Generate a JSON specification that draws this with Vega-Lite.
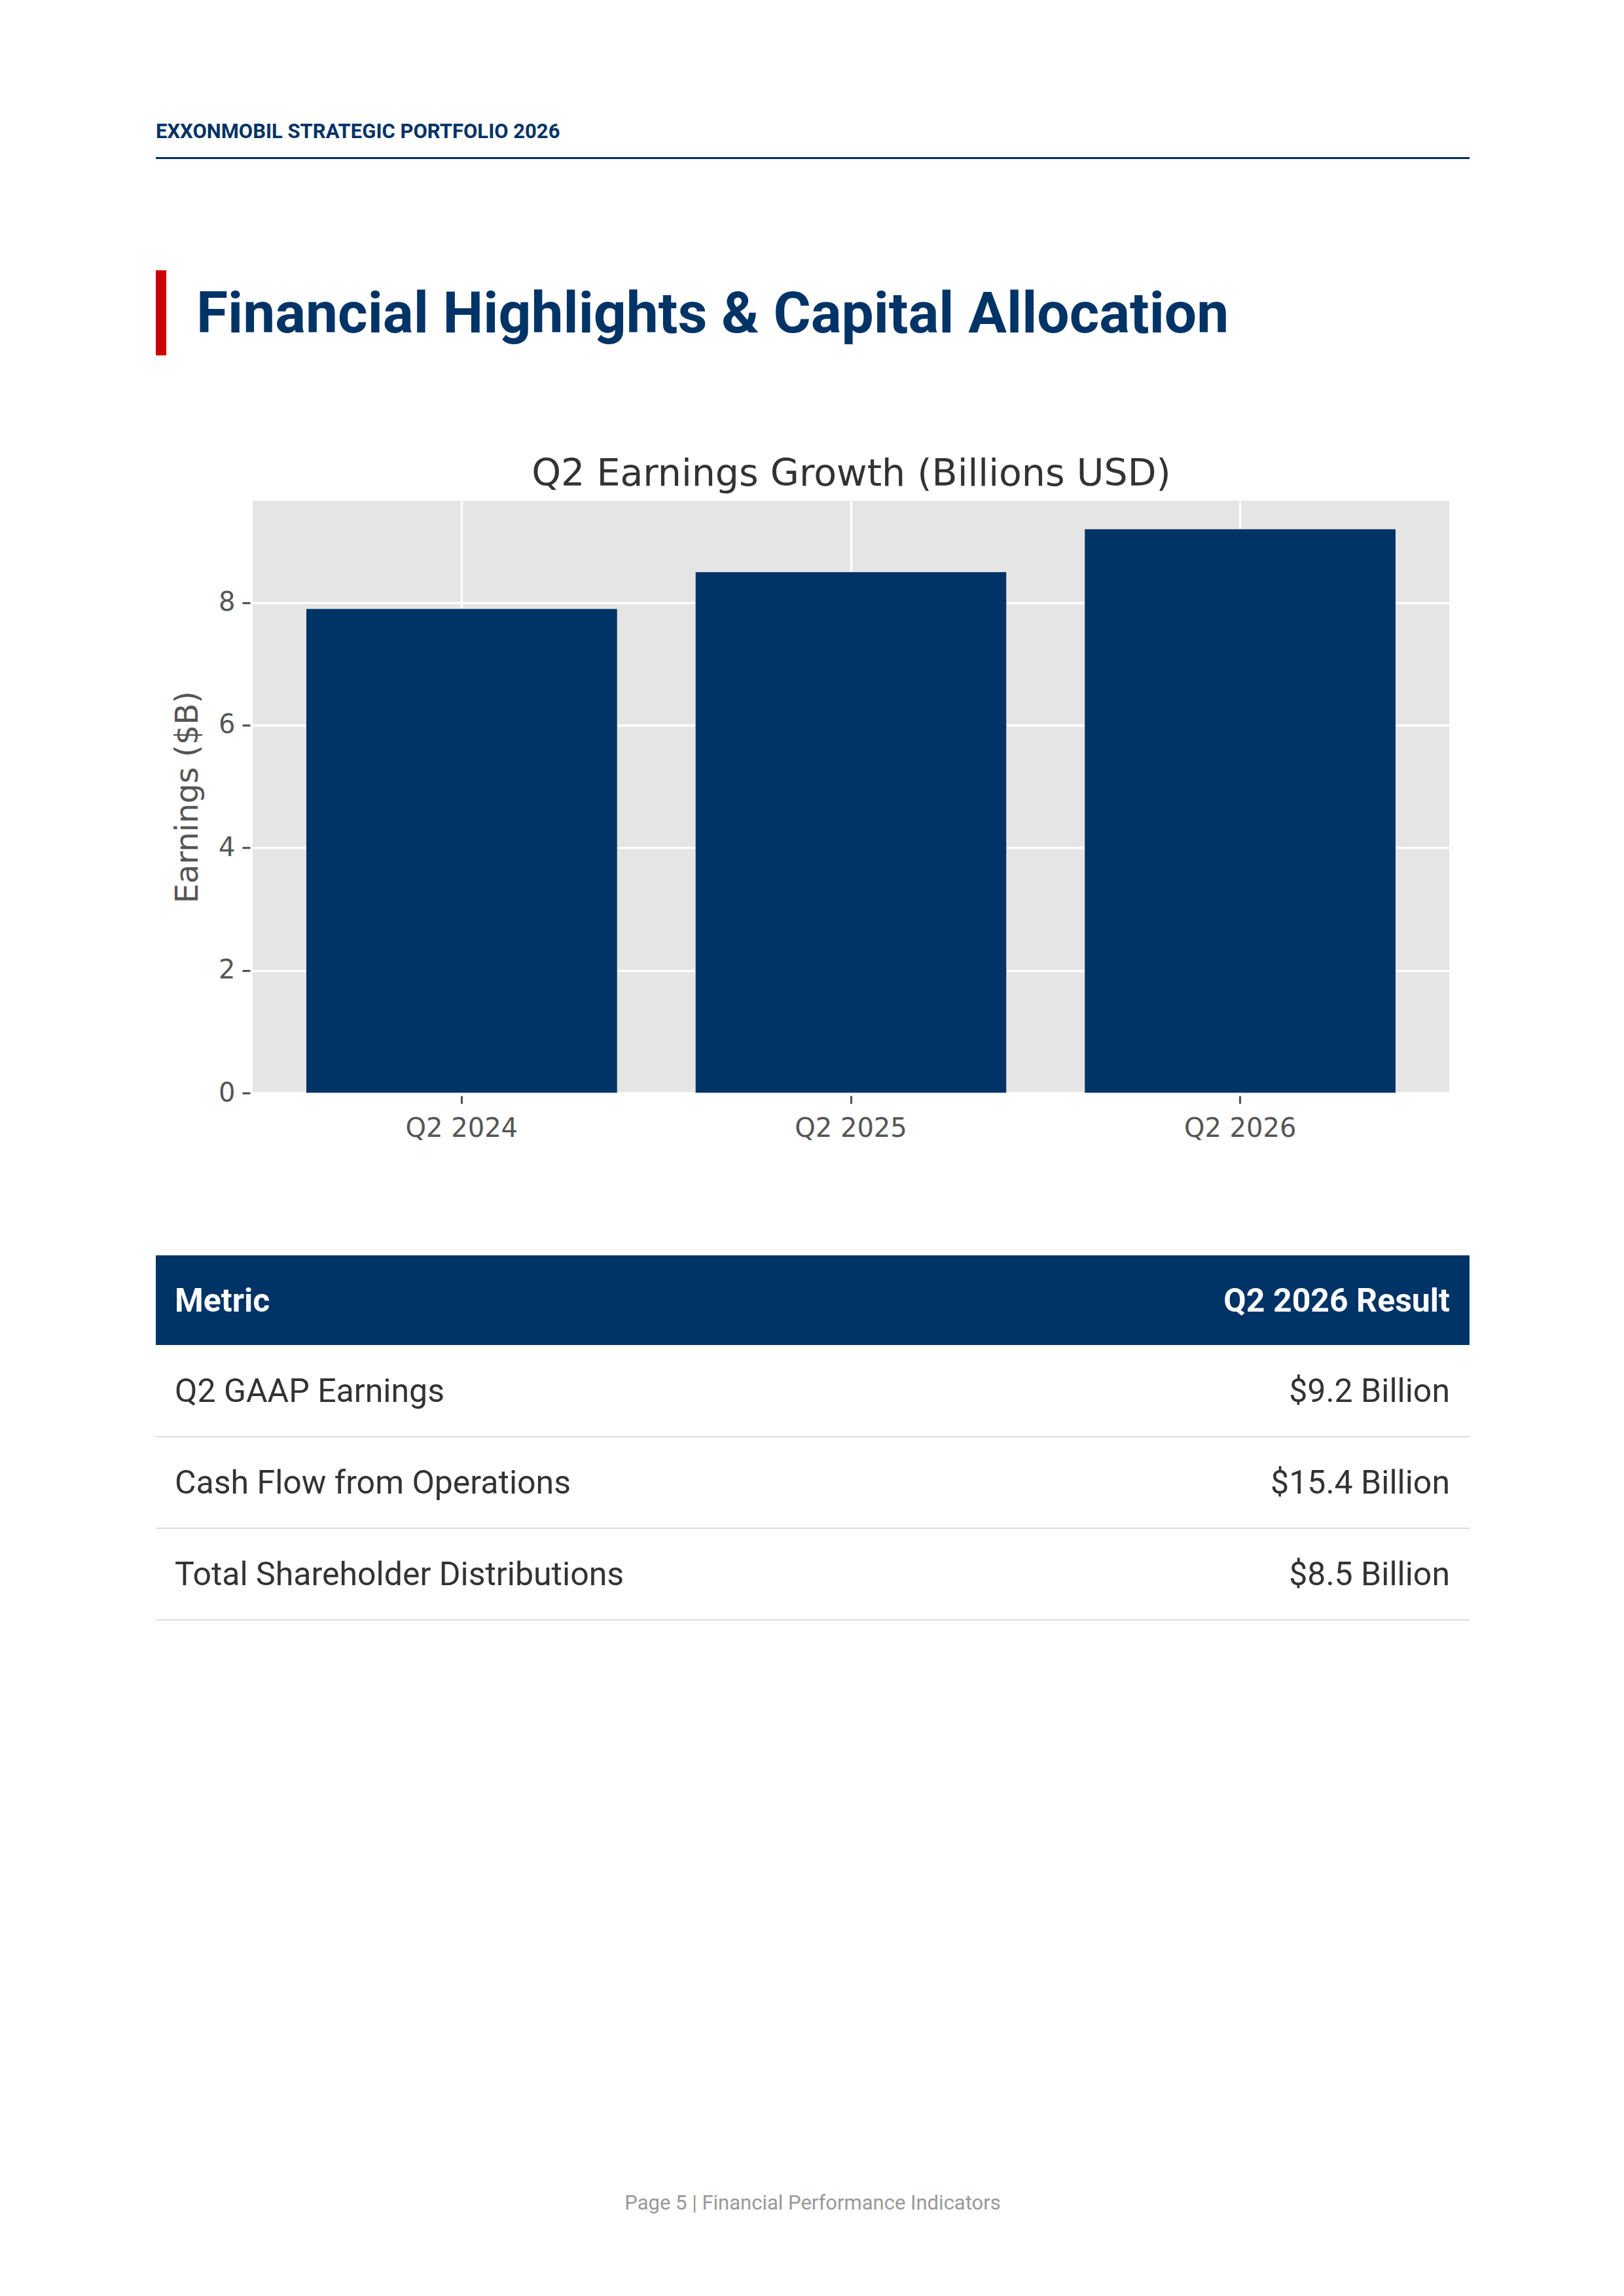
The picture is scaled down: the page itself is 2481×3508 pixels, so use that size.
{
  "$schema": "https://vega.github.io/schema/vega-lite/v6.json",
  "background": "#FFFFFF",
  "padding": {"left": 237, "top": 160, "right": 0, "bottom": 0},
  "config": {"view": {"stroke": null}, "font": "Roboto"},
  "spacing": 0,
  "vconcat": [
    {
      "width": 2007, "height": 80,
      "data": {"values": [{"label": "EXXONMOBIL STRATEGIC PORTFOLIO 2026"}]},
      "mark": {"type": "text", "align": "left", "baseline": "alphabetic", "dy": 11,
               "font": "Roboto", "fontSize": 31, "fontWeight": "bold", "color": "#003366"},
      "encoding": {
        "x": {"datum": "left", "type": "nominal",
              "scale": {"type": "point", "domain": ["left", "right"], "padding": 0}, "axis": null},
        "text": {"field": "label"}
      }
    },
    {
      "width": 2007, "height": 3,
      "view": {"fill": "#003366"},
      "data": {"values": []},
      "mark": {"type": "text"},
      "encoding": {"text": {"value": ""}}
    },
    {
      "width": 2007, "height": 170,
      "data": {"values": []},
      "mark": {"type": "text"},
      "encoding": {"text": {"value": ""}}
    },
    {
      "spacing": 46,
      "bounds": "flush",
      "hconcat": [
        {
          "width": 16, "height": 130,
          "view": {"fill": "#CC0000"},
          "data": {"values": []},
          "mark": {"type": "text"},
          "encoding": {"text": {"value": ""}}
        },
        {
          "width": 1945, "height": 190,
          "data": {"values": [{"label": "Financial Highlights & Capital Allocation"}]},
          "mark": {"type": "text", "align": "left", "baseline": "alphabetic",
                   "font": "Roboto", "fontSize": 87.5, "fontWeight": "bold", "color": "#003366"},
          "encoding": {
            "x": {"datum": "left", "type": "nominal",
                  "scale": {"type": "point", "domain": ["left", "right"], "padding": 0}, "axis": null},
            "text": {"field": "label"}
          }
        }
      ]
    },
    {
      "width": 2007, "height": 162,
      "data": {"values": [{"label": "Q2 Earnings Growth (Billions USD)"}]},
      "mark": {"type": "text", "baseline": "alphabetic", "dx": 59, "dy": 58,
               "font": "DejaVu Sans", "fontSize": 57, "color": "#333333"},
      "encoding": {"text": {"field": "label"}}
    },
    {
      "spacing": 0,
      "bounds": "flush",
      "hconcat": [
        {
          "width": 148, "height": 1153,
          "data": {"values": []},
          "mark": {"type": "text"},
          "encoding": {"text": {"value": ""}}
        },
        {
          "width": 1828, "height": 905,
          "view": {"fill": "#E5E5E5"},
          "data": {
            "values": [
              {"quarter": "Q2 2024", "earnings": 7.9},
              {"quarter": "Q2 2025", "earnings": 8.5},
              {"quarter": "Q2 2026", "earnings": 9.2}
            ]
          },
          "mark": {"type": "bar", "color": "#003366", "stroke": "#EEEEEE", "strokeWidth": 1},
          "encoding": {
            "x": {
              "field": "quarter", "type": "nominal", "sort": null,
              "scale": {"paddingInner": 0.2, "paddingOuter": 0.137},
              "axis": {
                "title": null, "labelAngle": 0, "bandPosition": 0.5,
                "grid": true, "gridColor": "#FFFFFF", "gridWidth": 3.5,
                "domain": false, "tickColor": "#555555", "tickSize": 12, "tickWidth": 3.2, "offset": 4,
                "labelFont": "DejaVu Sans", "labelFontSize": 40, "labelColor": "#555555", "labelPadding": 18
              }
            },
            "y": {
              "field": "earnings", "type": "quantitative",
              "scale": {"domain": [0, 9.66], "nice": false},
              "axis": {
                "title": "Earnings ($B)", "values": [0, 2, 4, 6, 8],
                "grid": true, "gridColor": "#FFFFFF", "gridWidth": 3.5,
                "domain": false, "tickColor": "#555555", "tickSize": 12, "tickWidth": 3.2, "offset": 4,
                "labelFont": "DejaVu Sans", "labelFontSize": 40, "labelColor": "#555555", "labelPadding": 11,
                "titleFont": "DejaVu Sans", "titleFontSize": 48, "titleFontWeight": "normal",
                "titleColor": "#555555", "titlePadding": 22
              }
            }
          }
        }
      ]
    },
    {
      "width": 2007, "height": 137,
      "view": {"fill": "#003366"},
      "data": {"values": [{"metric": "Metric", "result": "Q2 2026 Result"}]},
      "layer": [
        {
          "mark": {"type": "text", "align": "left", "dx": 29, "dy": 17, "baseline": "alphabetic",
                   "font": "Roboto", "fontSize": 50, "fontWeight": "bold", "color": "#FFFFFF"},
          "encoding": {
            "x": {"datum": "metric", "type": "nominal",
                  "scale": {"type": "point", "domain": ["metric", "result"], "padding": 0}, "axis": null},
            "text": {"field": "metric"}
          }
        },
        {
          "mark": {"type": "text", "align": "right", "dx": -30, "dy": 17, "baseline": "alphabetic",
                   "font": "Roboto", "fontSize": 50, "fontWeight": "bold", "color": "#FFFFFF"},
          "encoding": {
            "x": {"datum": "result", "type": "nominal"},
            "text": {"field": "result"}
          }
        }
      ]
    },
    {
      "width": 2007, "height": 420,
      "data": {
        "values": [
          {"metric": "Q2 GAAP Earnings", "result": "$9.2 Billion"},
          {"metric": "Cash Flow from Operations", "result": "$15.4 Billion"},
          {"metric": "Total Shareholder Distributions", "result": "$8.5 Billion"}
        ]
      },
      "encoding": {
        "y": {"field": "metric", "type": "nominal", "sort": null,
              "scale": {"paddingInner": 0, "paddingOuter": 0}, "axis": null}
      },
      "layer": [
        {
          "mark": {"type": "rule", "color": "#DDDDDD", "strokeWidth": 2},
          "encoding": {
            "y": {"field": "metric", "type": "nominal", "sort": null, "bandPosition": 1}
          }
        },
        {
          "mark": {"type": "text", "align": "left", "dx": 29, "dy": 17, "baseline": "alphabetic",
                   "font": "Roboto", "fontSize": 50, "color": "#333333"},
          "encoding": {
            "x": {"datum": "metric", "type": "nominal",
                  "scale": {"type": "point", "domain": ["metric", "result"], "padding": 0}, "axis": null},
            "text": {"field": "metric"}
          }
        },
        {
          "mark": {"type": "text", "align": "right", "dx": -30, "dy": 17, "baseline": "alphabetic",
                   "font": "Roboto", "fontSize": 50, "color": "#333333"},
          "encoding": {
            "x": {"datum": "result", "type": "nominal"},
            "text": {"field": "result"}
          }
        }
      ]
    },
    {
      "width": 2007, "height": 870,
      "data": {"values": []},
      "mark": {"type": "text"},
      "encoding": {"text": {"value": ""}}
    },
    {
      "width": 2007, "height": 60,
      "data": {"values": [{"footer": "Page 5 | Financial Performance Indicators"}]},
      "mark": {"type": "text", "baseline": "alphabetic", "font": "Roboto", "fontSize": 31, "color": "#999999"},
      "encoding": {"text": {"field": "footer"}}
    }
  ]
}
